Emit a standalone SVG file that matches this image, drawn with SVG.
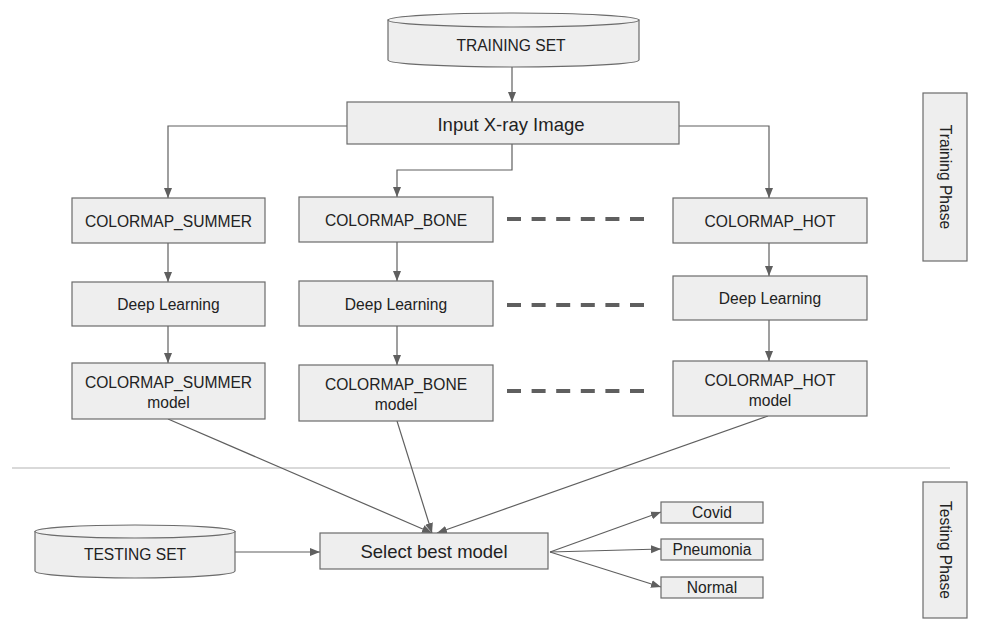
<svg xmlns="http://www.w3.org/2000/svg" width="982" height="624" viewBox="0 0 982 624">
<style>
.box{fill:#eeeeee;stroke:#6b6b6b;stroke-width:1.2}
.cyl{fill:#eeeeee;stroke:#6b6b6b;stroke-width:1.2}
.cyltop{fill:#f3f3f3;stroke:#6b6b6b;stroke-width:1.2}
.t{font-family:"Liberation Sans",Arial,sans-serif;font-size:15.6px;fill:#222;text-anchor:middle;dominant-baseline:central}
.big{font-size:18.5px}
.c{fill:none;stroke:#5f5f5f;stroke-width:1.2}
.dash{fill:none;stroke:#5f5f5f;stroke-width:4;stroke-dasharray:14 10.6}
.sep{stroke:#cccccc;stroke-width:1.5}
</style>
<defs>
<marker id="ah" viewBox="0 0 10 10" refX="10" refY="5" markerWidth="10" markerHeight="10" markerUnits="userSpaceOnUse" orient="auto">
<path d="M0,1 L10,5 L0,9 Z" fill="#5f5f5f"/>
</marker>
</defs>
<line class="sep" x1="12" y1="468" x2="950" y2="468"/>
<g id="connectors">
<line class="c" x1="512" y1="67" x2="512" y2="102" marker-end="url(#ah)"/>
<polyline class="c" points="347,126 168,126 168,198" marker-end="url(#ah)"/>
<polyline class="c" points="679,126 769,126 769,198" marker-end="url(#ah)"/>
<polyline class="c" points="512,144 512,170 397,170 397,197" marker-end="url(#ah)"/>
<line class="c" x1="168" y1="243" x2="168" y2="282" marker-end="url(#ah)"/>
<line class="c" x1="168" y1="326" x2="168" y2="363" marker-end="url(#ah)"/>
<line class="c" x1="397" y1="242" x2="397" y2="281" marker-end="url(#ah)"/>
<line class="c" x1="397" y1="326" x2="397" y2="365" marker-end="url(#ah)"/>
<line class="c" x1="769" y1="243" x2="769" y2="276" marker-end="url(#ah)"/>
<line class="c" x1="769" y1="320" x2="769" y2="361" marker-end="url(#ah)"/>
<line class="c" x1="168" y1="419" x2="432" y2="533" marker-end="url(#ah)"/>
<line class="c" x1="397" y1="421" x2="432" y2="533" marker-end="url(#ah)"/>
<line class="c" x1="768" y1="416" x2="437" y2="533" marker-end="url(#ah)"/>
<line class="c" x1="235" y1="552" x2="320" y2="552" marker-end="url(#ah)"/>
<line class="c" x1="550" y1="552" x2="661" y2="512" marker-end="url(#ah)"/>
<line class="c" x1="550" y1="552" x2="661" y2="549" marker-end="url(#ah)"/>
<line class="c" x1="550" y1="552" x2="661" y2="587" marker-end="url(#ah)"/>
<line class="dash" x1="507" y1="219" x2="645" y2="219"/>
<line class="dash" x1="507" y1="305" x2="645" y2="305"/>
<line class="dash" x1="507" y1="391" x2="645" y2="391"/>
</g>
<g id="training-set">
<path class="cyl" d="M388,20 L388,60 A125.5,7 0 0 0 639,60 L639,20 Z"/>
<ellipse class="cyltop" cx="513.5" cy="20" rx="125.5" ry="7"/>
<text class="t" x="511" y="45">TRAINING SET</text>
</g>
<g id="input-xray">
<rect class="box" x="347" y="102" width="332" height="42"/>
<text class="t big" x="511" y="124">Input X-ray Image</text>
</g>
<g id="cm-summer">
<rect class="box" x="72" y="198" width="193" height="45"/>
<text class="t" x="168.5" y="221">COLORMAP_SUMMER</text>
</g>
<g id="cm-bone">
<rect class="box" x="299" y="197" width="194" height="45"/>
<text class="t" x="396" y="220">COLORMAP_BONE</text>
</g>
<g id="cm-hot">
<rect class="box" x="673" y="198" width="194" height="45"/>
<text class="t" x="770" y="221">COLORMAP_HOT</text>
</g>
<g id="dl-summer">
<rect class="box" x="72" y="282" width="193" height="44"/>
<text class="t" x="168.5" y="304">Deep Learning</text>
</g>
<g id="dl-bone">
<rect class="box" x="299" y="281" width="194" height="45"/>
<text class="t" x="396" y="304">Deep Learning</text>
</g>
<g id="dl-hot">
<rect class="box" x="673" y="276" width="194" height="44"/>
<text class="t" x="770" y="298">Deep Learning</text>
</g>
<g id="model-summer">
<rect class="box" x="72" y="363" width="193" height="56"/>
<text class="t" x="168.5" y="382">COLORMAP_SUMMER</text>
<text class="t" x="168.5" y="402">model</text>
</g>
<g id="model-bone">
<rect class="box" x="299" y="365" width="194" height="56"/>
<text class="t" x="396" y="384">COLORMAP_BONE</text>
<text class="t" x="396" y="404">model</text>
</g>
<g id="model-hot">
<rect class="box" x="673" y="361" width="194" height="55"/>
<text class="t" x="770" y="380">COLORMAP_HOT</text>
<text class="t" x="770" y="400">model</text>
</g>
<g id="training-phase">
<rect class="box" x="923" y="93" width="44" height="168"/>
<text class="t" transform="translate(945,177) rotate(90)">Training Phase</text>
</g>
<g id="testing-phase">
<rect class="box" x="923" y="482" width="44" height="136"/>
<text class="t" transform="translate(945,550) rotate(90)">Testing Phase</text>
</g>
<g id="testing-set">
<path class="cyl" d="M35,531.5 L35,571 A100,7 0 0 0 235,571 L235,531.5 Z"/>
<ellipse class="cyltop" cx="135" cy="531.5" rx="100" ry="6.5"/>
<text class="t" x="135" y="554">TESTING SET</text>
</g>
<g id="select-best">
<rect class="box" x="320" y="533" width="228" height="36"/>
<text class="t big" x="434" y="551">Select best model</text>
</g>
<g id="covid">
<rect class="box" x="661" y="502" width="102" height="21"/>
<text class="t" x="712" y="512.5">Covid</text>
</g>
<g id="pneumonia">
<rect class="box" x="661" y="539" width="102" height="21"/>
<text class="t" x="712" y="549.5">Pneumonia</text>
</g>
<g id="normal">
<rect class="box" x="661" y="577" width="102" height="21"/>
<text class="t" x="712" y="587.5">Normal</text>
</g>
</svg>
